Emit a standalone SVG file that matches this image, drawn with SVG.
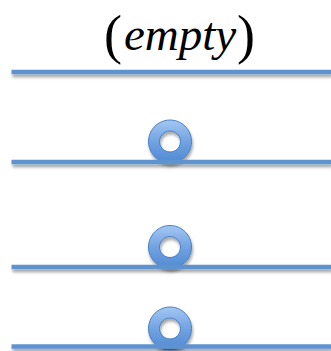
<svg xmlns="http://www.w3.org/2000/svg" width="331" height="351" viewBox="0 0 331 351">
<defs>
<linearGradient id="rg" x1="0" y1="0" x2="0" y2="1">
<stop offset="0" stop-color="#a3c7f2"/>
<stop offset="0.5" stop-color="#72a3e2"/>
<stop offset="1" stop-color="#5089d2"/>
</linearGradient>
<filter id="sh" filterUnits="userSpaceOnUse" x="0" y="0" width="331" height="351">
<feDropShadow dx="1" dy="3" stdDeviation="1.6" flood-color="#000" flood-opacity="0.35"/>
</filter>
</defs>
<style>
.ln{fill:#5f93cf;filter:url(#sh)}
.ring{fill:url(#rg);fill-rule:evenodd;stroke:#4a7fc4;stroke-width:1;filter:url(#sh)}
.t{font-family:"Liberation Serif","Times New Roman",serif;fill:#000}
</style>
<g id="label">
<text class="t" x="104" y="52.5" font-size="54">(</text>
<text class="t" x="124" y="50" font-size="47" font-style="italic">empty</text>
<text class="t" x="237" y="52.5" font-size="54">)</text>
</g>
<g id="ring1"><path class="ring" d="M170,120a21.5,21.5 0 1,0 0.01,0zM170,131a10.5,10.5 0 1,0 0.01,0z"/></g>
<g id="ring2"><path class="ring" d="M170,225.5a21.5,21.5 0 1,0 0.01,0zM170,236.5a10.5,10.5 0 1,0 0.01,0z"/></g>
<g id="ring3"><path class="ring" d="M170,307a21.5,21.5 0 1,0 0.01,0zM170,318a10.5,10.5 0 1,0 0.01,0z"/></g>
<g id="connectors">
<rect class="ln" x="11.5" y="69.75" width="320" height="4.5"/>
<rect class="ln" x="11.5" y="159.75" width="320" height="4.5"/>
<rect class="ln" x="11.5" y="264.75" width="320" height="4.5"/>
<rect class="ln" x="11.5" y="344.25" width="320" height="4.5"/>
</g>
</svg>
